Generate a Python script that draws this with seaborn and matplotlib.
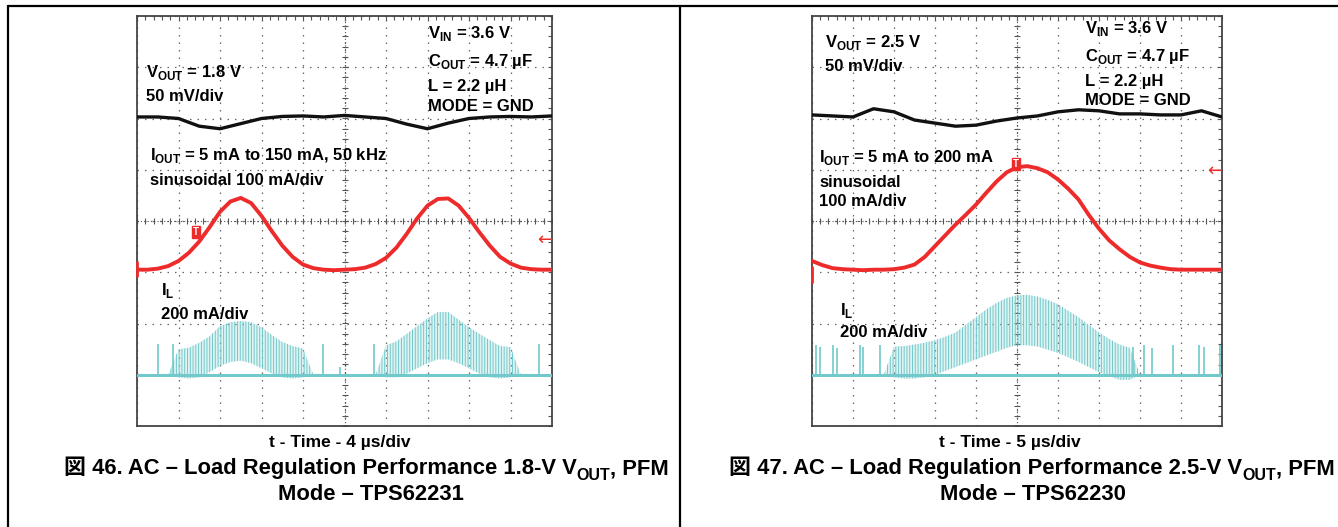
import numpy as np
import pandas as pd
import matplotlib
matplotlib.use('Agg')
import matplotlib.pyplot as plt
import seaborn as sns
from matplotlib import font_manager
from matplotlib.ticker import MultipleLocator

W, H = 1338, 527

# ---- fig 46: TPS62231, Vout 1.8 V, 4 us/div ----
t46 = np.arange(41) * 1.0          # us, quarter-division samples
t46_half = np.arange(21) * 2.0     # us, half-division samples
vout46_mv = [0, 0, -1.5, -9, -11.5, -6.5, -1.5, 0.5, 1, 0, 1.5, 0, -1.5, -7, -11.5, -6, -1.5, 0, 0.5, 0, 1]
iout46_ma = [5, 5, 7, 12, 22, 38, 60, 88, 118, 138, 145, 135, 110, 80, 52, 30, 15, 8, 5, 4,
             5, 6, 9, 16, 28, 48, 75, 105, 130, 143, 144, 130, 106, 78, 52, 30, 17, 9, 6, 5, 5]
il46_hi = [0, 0, 0, 0, 100, 105, 125, 150, 190, 205, 210, 205, 185, 155, 128, 112, 102, 0, 0, 0,
           0, 0, 0, 0, 115, 130, 160, 190, 220, 245, 245, 215, 185, 160, 135, 112, 108, 0, 0, 0, 0]
il46_lo = [0, 0, 0, 0, -10, -15, -10, 10, 35, 50, 55, 45, 25, 5, -10, -15, -10, 0, 0, 0,
           0, 0, 0, 0, -10, -10, 5, 25, 45, 60, 60, 45, 25, 5, -10, -15, -10, 0, 0, 0, 0]
il46_spike_t = [2.0, 3.5, 17.9, 19.6, 22.8, 38.7]
il46_spike_ma = [120, 120, 120, 30, 120, 120]

# ---- fig 47: TPS62230, Vout 2.5 V, 5 us/div ----
t47 = np.arange(41) * 1.25
t47_half = np.arange(21) * 2.5
vout47_mv = [0, -1, -2, 6, 3, -5, -8, -11, -10, -6, -3, -1, 3, 5, 4, 1, 1, 0, 0, 4, -2]
iout47_ma = [22, 14, 8, 6, 5, 4, 5, 5, 6, 9, 15, 30, 51, 72, 93, 112, 132, 155, 177, 195,
             205, 207, 203, 195, 181, 163, 142, 112, 85, 62, 45, 30, 19, 13, 9, 6, 5, 5, 5, 5, 5]
il47_hi = [0, 0, 0, 0, 0, 0, 0, 0, 110, 112, 118, 125, 135, 148, 165, 195, 225, 255, 280, 300,
           310, 312, 305, 292, 275, 250, 225, 195, 165, 140, 118, 105, 0, 0, 0, 0, 0, 0, 0, 0, 0]
il47_lo = [0, 0, 0, 0, 0, 0, 0, 0, -10, -15, -15, -10, 0, 15, 30, 45, 60, 75, 90, 105,
           115, 115, 110, 98, 85, 68, 50, 30, 10, -5, -20, -20, 0, 0, 0, 0, 0, 0, 0, 0, 0]
il47_spike_t = [0.5, 1.0, 2.6, 3.0, 5.8, 6.2, 8.3, 39.2, 40.5, 41.5, 44.0, 47.2, 47.8, 49.8]
il47_spike_ma = [115, 110, 115, 105, 115, 110, 115, 110, 115, 105, 115, 115, 110, 115]

BLACK, RED, CYAN = '#111111', '#ee2b2b', '#72c9cb'

sns.set_style('white')
names = {f.name for f in font_manager.fontManager.ttflist}
narrow = 'Liberation Sans Narrow' if 'Liberation Sans Narrow' in names else 'Liberation Sans'
plt.rcParams['font.family'] = ['Liberation Sans', 'DejaVu Sans']
plt.rcParams['text.color'] = 'black'
plt.rcParams['mathtext.fontset'] = 'custom'
plt.rcParams['mathtext.rm'] = 'Liberation Sans:bold'
plt.rcParams['mathtext.bf'] = 'Liberation Sans:bold'
plt.rcParams['hatch.linewidth'] = 0.7


def scope_grid(ax, tdiv):
    ax.set_xlim(0, 10 * tdiv)
    ax.set_ylim(-4, 4)
    ax.set_xticks(np.arange(0, 10 * tdiv + 0.01, tdiv))
    ax.set_yticks(np.arange(-4, 5, 1))
    ax.xaxis.set_minor_locator(MultipleLocator(tdiv / 5))
    ax.yaxis.set_minor_locator(MultipleLocator(0.2))
    ax.tick_params(which='both', direction='in', top=True, right=True,
                   labelbottom=False, labelleft=False, color='#555', width=0.8)
    ax.tick_params(which='major', length=3)
    ax.tick_params(which='minor', length=3)
    ax.grid(True, which='major', color='#666', linestyle=(0, (1.2, 4.8)), linewidth=0.9)
    for s in ax.spines.values():
        s.set_color('#444')
        s.set_linewidth(1.3)
    # centre cross-hair with its little ticks
    ax.axhline(0, color='#555', lw=0.8, ls=(0, (1, 2)))
    ax.axvline(5 * tdiv, color='#555', lw=0.8, ls=(0, (1, 2)))
    xm = np.arange(0, 10 * tdiv + 0.01, tdiv / 5)
    ym = np.arange(-4, 4.01, 0.2)
    ax.plot(xm, np.zeros(len(xm)), ls='none', marker='|', ms=4, mew=0.8, color='#555')
    ax.plot(np.full(len(ym), 5 * tdiv), ym, ls='none', marker='_', ms=4, mew=0.8, color='#555')


def draw_scope(ax, tdiv, t, t_half, vout, iout, il_hi, il_lo, sp_t, sp_ma, v_off, i_off, l_off):
    scope_grid(ax, tdiv)
    df = pd.DataFrame({'t': t, 'iout': i_off + np.array(iout) / 100.0,
                       'hi': l_off + np.array(il_hi) / 200.0, 'lo': l_off + np.array(il_lo) / 200.0})
    dv = pd.DataFrame({'t': t_half, 'v': v_off + np.array(vout) / 50.0})
    # inductor current: baseline, switching band and idle pulses
    ax.axhline(l_off, color=CYAN, lw=2.2, zorder=3)
    ax.fill_between(df['t'], df['lo'], df['hi'], facecolor=(0.45, 0.79, 0.80, 0.22),
                    edgecolor=CYAN, hatch='||||||', linewidth=0, zorder=3)
    ax.vlines(sp_t, l_off, l_off + np.array(sp_ma) / 200.0, color=CYAN, lw=1.2, zorder=3)
    sns.lineplot(data=df, x='t', y='iout', ax=ax, color=RED, lw=2.8, zorder=4)
    sns.lineplot(data=dv, x='t', y='v', ax=ax, color=BLACK, lw=2.4, zorder=4)
    ax.set_xlabel('')
    ax.set_ylabel('')


fig = plt.figure(figsize=(W / 100, H / 100), dpi=100)
ax1 = fig.add_axes([137 / W, 1 - 426 / H, 415 / W, 410 / H])
ax2 = fig.add_axes([812 / W, 1 - 426 / H, 410 / W, 410 / H])

draw_scope(ax1, 4.0, t46, t46_half, vout46_mv, iout46_ma, il46_hi, il46_lo,
           il46_spike_t, il46_spike_ma, 2.03, -1.0, -3.0)
draw_scope(ax2, 5.0, t47, t47_half, vout47_mv, iout47_ma, il47_hi, il47_lo,
           il47_spike_t, il47_spike_ma, 2.07, -1.0, -3.0)

# overlay in pixel coordinates for labels and page frame
ov = fig.add_axes([0, 0, 1, 1])
ov.set_xlim(0, W)
ov.set_ylim(H, 0)
ov.axis('off')
ov.plot([8, W], [6, 6], color='black', lw=1.6)
ov.plot([8, 8], [6, H], color='black', lw=1.6)
ov.plot([680, 680], [6, H], color='black', lw=1.6)

lab = dict(fontsize=12, weight='bold', color='black', va='baseline', ha='left')
ov.text(428, 38, r'V$_{\rm IN}$ = 3.6 V', **lab)
ov.text(428, 66, r'C$_{\rm OUT}$ = 4.7 µF', **lab)
ov.text(428, 91, 'L = 2.2 µH', **lab)
ov.text(428, 111, 'MODE = GND', **lab)
ov.text(146, 77, r'V$_{\rm OUT}$ = 1.8 V', **lab)
ov.text(146, 101, '50 mV/div', **lab)
ov.text(150, 160, r'I$_{\rm OUT}$ = 5 mA to 150 mA, 50 kHz', **lab)
ov.text(150, 185, 'sinusoidal 100 mA/div', **lab)
ov.text(161, 295, r'I$_{\rm L}$', **lab)
ov.text(161, 319, '200 mA/div', **lab)

ov.text(1085, 33, r'V$_{\rm IN}$ = 3.6 V', **lab)
ov.text(1085, 61, r'C$_{\rm OUT}$ = 4.7 µF', **lab)
ov.text(1085, 86, 'L = 2.2 µH', **lab)
ov.text(1085, 105, 'MODE = GND', **lab)
ov.text(825, 47, r'V$_{\rm OUT}$ = 2.5 V', **lab)
ov.text(825, 71, '50 mV/div', **lab)
ov.text(819, 162, r'I$_{\rm OUT}$ = 5 mA to 200 mA', **lab)
ov.text(819, 187, 'sinusoidal', **lab)
ov.text(819, 206, '100 mA/div', **lab)
ov.text(840, 315, r'I$_{\rm L}$', **lab)
ov.text(840, 337, '200 mA/div', **lab)

# scope markers (trigger and channel arrows)
mk = dict(fontsize=7, weight='bold', color='white', ha='center', va='center',
          bbox=dict(boxstyle='square,pad=0.15', fc=RED, ec=RED))
ov.text(196, 232, 'T', **mk)
ov.text(1016, 164, 'T', **mk)
ov.text(545, 240, '←', fontsize=13, color=RED, ha='center', va='center', family='DejaVu Sans')
ov.text(1215, 171, '←', fontsize=13, color=RED, ha='center', va='center', family='DejaVu Sans')
ov.plot([137, 137], [262, 276], color=RED, lw=2)
ov.plot([812, 812], [267, 282], color=RED, lw=2)

# x-axis captions and figure titles
cap = [narrow, 'Noto Sans CJK JP']
ov.text(340, 443, 't - Time - 4 µs/div', family=cap, fontsize=12.5, weight='bold', ha='center', va='center')
ov.text(1010, 443, 't - Time - 5 µs/div', family=cap, fontsize=12.5, weight='bold', ha='center', va='center')

for x0, num, vtxt, part, yc in [(64, '46', '1.8', 'TPS62231', 371), (729, '47', '2.5', 'TPS62230', 1033)]:
    c1 = ov.text(x0, 474, '図 ' + num + '. AC – Load Regulation Performance ' + vtxt + '-V V',
                 family=cap, fontsize=15.8, weight='bold', va='baseline', ha='left')
    c2 = ov.annotate('OUT', xy=(1, 0), xycoords=c1, xytext=(0, -3), textcoords='offset points',
                     family=cap, fontsize=11.5, weight='bold', va='bottom', ha='left')
    ov.annotate(', PFM', xy=(1, 0), xycoords=(c2, c1), family=cap, fontsize=15.8, weight='bold',
                va='bottom', ha='left')
    ov.text(yc, 500, 'Mode – ' + part, family=cap, fontsize=15.8, weight='bold', va='baseline', ha='center')

fig.savefig('out.png', dpi=100)
